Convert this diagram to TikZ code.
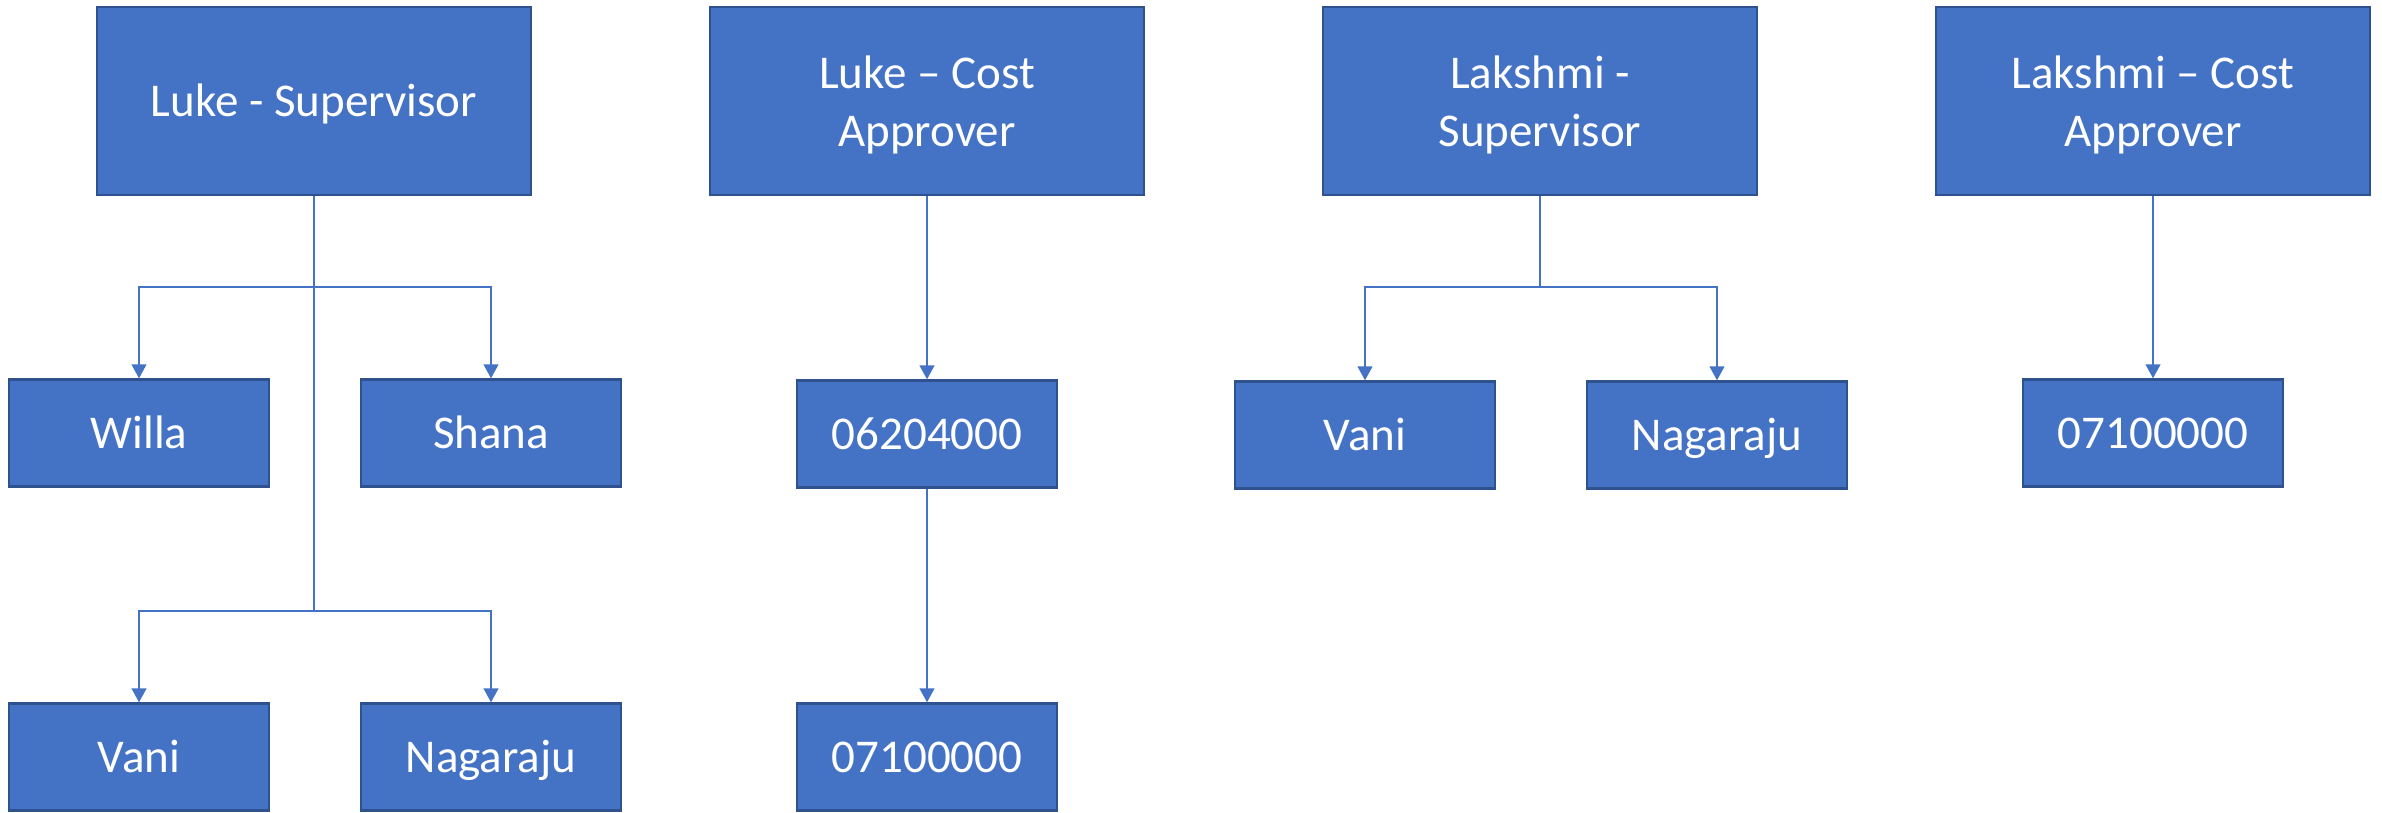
\documentclass[tikz,border=0pt]{standalone}
\usepackage{fontspec}
\setmainfont{Carlito}
\usetikzlibrary{arrows.meta}
\definecolor{boxblue}{HTML}{4472C4}
\definecolor{boxedge}{HTML}{2F528F}
\newcommand{\upstrut}{\rule{0pt}{41pt}}
\tikzset{
  box/.style={rectangle, fill=boxblue, draw=boxedge, line width=2.5pt, text=white,
    inner sep=0pt, align=center, font=\fontsize{47}{58}\selectfont},
  bigbox/.style={box, minimum width=434pt, minimum height=188pt},
  smallbox/.style={box, minimum width=260pt, minimum height=107pt},
  oneline/.style={text height=30pt, text depth=0pt},
  conn/.style={draw=boxblue, line width=1.5pt},
  arr/.style={conn, -{Triangle[length=14pt,width=15pt]}}
}
\begin{document}
\begin{tikzpicture}[x=1pt,y=-1pt]
\useasboundingbox (0,0) rectangle (2382,812);
% top row
\node[bigbox,oneline] (ls) at (314,101) {Luke - Supervisor};
\node[bigbox] (lc) at (927,101) {\upstrut Luke – Cost\\Approver};
\node[bigbox] (ks) at (1540,101) {\upstrut Lakshmi -\\Supervisor};
\node[bigbox] (kc) at (2153,101) {\upstrut Lakshmi – Cost\\Approver};
% second row
\node[smallbox,oneline] (willa) at (139,433) {Willa};
\node[smallbox,oneline] (shana) at (491,433) {Shana};
\node[smallbox,oneline] (c1) at (927,434) {06204000};
\node[smallbox,oneline] (vani2) at (1365,435) {Vani};
\node[smallbox,oneline] (naga2) at (1717,435) {Nagaraju};
\node[smallbox,oneline] (c3) at (2153,433) {07100000};
% third row
\node[smallbox,oneline] (vani1) at (139,757) {Vani};
\node[smallbox,oneline] (naga1) at (491,757) {Nagaraju};
\node[smallbox,oneline] (c2) at (927,757) {07100000};
% junctions
\coordinate (j1) at (314,287);
\coordinate (j2) at (314,611);
\coordinate (j3) at (1540,287);
% Luke supervisor tree
\draw[conn] (ls.south) -- (j2);
\draw[arr] (j1) -| (willa.north);
\draw[arr] (j1) -| (shana.north);
\draw[arr] (j2) -| (vani1.north);
\draw[arr] (j2) -| (naga1.north);
% Luke cost approver
\draw[arr] (lc.south) -- (c1.north);
\draw[arr] (c1.south) -- (c2.north);
% Lakshmi supervisor
\draw[conn] (ks.south) -- (j3);
\draw[arr] (j3) -| (vani2.north);
\draw[arr] (j3) -| (naga2.north);
% Lakshmi cost approver
\draw[arr] (kc.south) -- (c3.north);
\end{tikzpicture}
\end{document}
